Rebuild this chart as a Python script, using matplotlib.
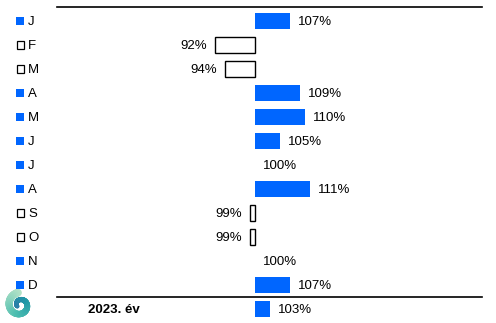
import numpy as np
import matplotlib
matplotlib.use("Agg")
import matplotlib.pyplot as plt
from matplotlib.patches import Rectangle
from matplotlib.collections import LineCollection

# monthly index (previous year = 100%)
months = ["J", "F", "M", "A", "M", "J", "J", "A", "S", "O", "N", "D"]
values = [107, 92, 94, 109, 110, 105, 100, 111, 99, 99, 100, 107]
total_label = "2023. év"
total_value = 103

BASE = 100
BLUE = "#0066FF"

plt.rcParams["font.family"] = ["Liberation Sans", "DejaVu Sans"]

fig = plt.figure(figsize=(4.96, 3.23), dpi=100)
ax = fig.add_axes([0, 0, 1, 1])
# 5 px per percent, baseline at x=255 px, rows 24 px apart
ax.set_xlim(49, 148.2)
ax.set_ylim(12.583, -0.875)
ax.axis("off")

labels = months + [total_label]
vals = values + [total_value]
rows = list(range(len(vals)))

for i, v in zip(rows, vals):
    w = v - BASE
    if w > 0:
        ax.barh(i, w, left=BASE, height=0.667, color=BLUE, edgecolor="none")
        ax.text(v + 1.6, i + 0.03, f"{v}%", ha="left", va="center", fontsize=9.5)
    elif w < 0:
        ax.barh(i, w, left=BASE, height=0.667, facecolor="white",
                edgecolor="black", linewidth=1)
        ax.text(v - 1.6, i + 0.03, f"{v}%", ha="right", va="center", fontsize=9.5)
    else:
        ax.text(v + 1.6, i + 0.03, f"{v}%", ha="left", va="center", fontsize=9.5)

# month markers on the left
for i, (m, v) in enumerate(zip(months, values)):
    if v >= BASE:
        sq = Rectangle((52.2, i - 0.17), 1.6, 0.34, facecolor=BLUE, edgecolor="none")
    else:
        sq = Rectangle((52.3, i - 0.15), 1.4, 0.3, facecolor="white",
                       edgecolor="black", linewidth=0.9)
    ax.add_patch(sq)
    ax.text(54.6, i + 0.03, m, ha="left", va="center", fontsize=9.5)

ax.text(66.6, 12.03, total_label, ha="left", va="center", fontsize=9.5,
        fontweight="bold")

# separator lines
ax.plot([60.4, 145.4], [-0.583, -0.583], color="black", linewidth=1.2)
ax.plot([60.4, 145.4], [11.5, 11.5], color="black", linewidth=1.2)

# small logo swirl (bottom left corner)
lax = fig.add_axes([4 / 496, 2 / 323, 32 / 496, 32 / 323])
lax.set_xlim(-16, 16)
lax.set_ylim(-16, 16)
lax.set_aspect("equal")
lax.axis("off")
t = np.linspace(0, 1, 200)
theta = np.pi * 0.55 + t * 2.6 * np.pi
rad = 12.5 - 9.5 * t
px = rad * np.cos(theta)
py = rad * np.sin(theta)
pts = np.column_stack([px, py]).reshape(-1, 1, 2)
segs = np.concatenate([pts[:-1], pts[1:]], axis=1)
cmap = matplotlib.colors.LinearSegmentedColormap.from_list(
    "logo", ["#b5e3c8", "#4fbfb0", "#1f98a6", "#2a7fa8"])
widths = 5.5 - 2.5 * t[:-1]
lc = LineCollection(segs, colors=cmap(t[:-1]), linewidths=widths,
                    capstyle="round")
lax.add_collection(lc)

fig.savefig("out.png", dpi=100)
